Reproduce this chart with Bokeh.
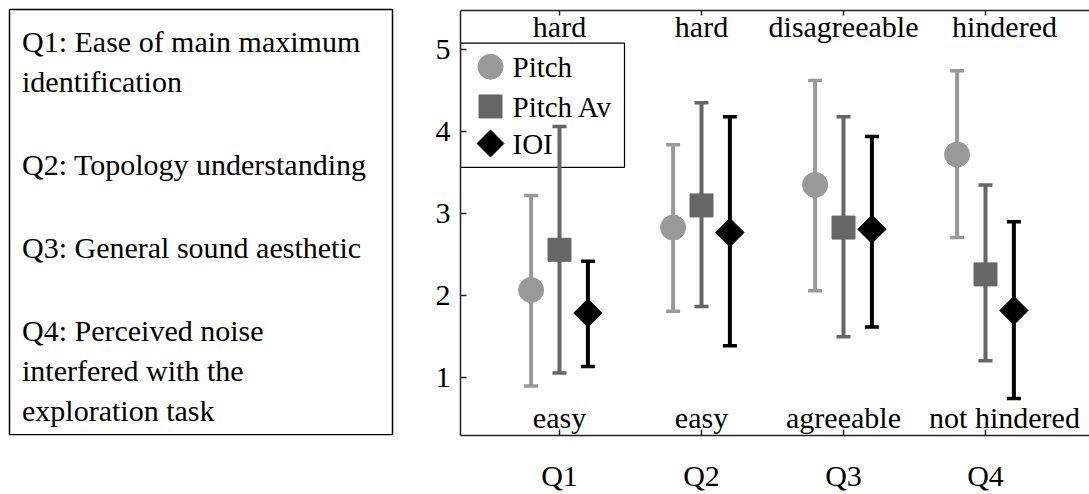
import numpy as np
from bokeh.plotting import figure
from bokeh.models import Range1d, FixedTicker, LinearAxis, Span
from bokeh.layouts import row
from bokeh.embed import file_html
from bokeh.resources import INLINE
from bokeh.core.properties import value

# ---------------- data ----------------
questions = ["Q1", "Q2", "Q3", "Q4"]
series_names = ["Pitch", "Pitch Av", "IOI"]

pitch_mean = [2.07, 2.83, 3.35, 3.72]
pitch_low = [0.90, 1.81, 2.06, 2.71]
pitch_high = [3.22, 3.84, 4.62, 4.74]

pitchav_mean = [2.56, 3.10, 2.83, 2.26]
pitchav_low = [1.06, 1.87, 1.50, 1.21]
pitchav_high = [4.06, 4.35, 4.18, 3.35]

ioi_mean = [1.79, 2.77, 2.81, 1.82]
ioi_low = [1.14, 1.39, 1.62, 0.75]
ioi_high = [2.42, 4.18, 3.94, 2.90]

top_labels = ["hard", "hard", "disagreeable", "hindered"]
bottom_labels = ["easy", "easy", "agreeable", "not hindered"]
y_ticks = [1, 2, 3, 4, 5]

descriptions = [
    ["Q1: Ease of main maximum", "identification"],
    ["Q2: Topology understanding"],
    ["Q3: General sound aesthetic"],
    ["Q4: Perceived noise", "interfered with the", "exploration task"],
]

FONT = value("Liberation Serif")
FS = "30px"
TOTAL_W, H = 1089, 494
TXT_SHIFT = 11   # empirical correction of the text-glyph baseline (px)
LABEL_XOFF = [0, 0, 0, 19]   # horizontal nudge (px) of the scale annotations per question

# frame geometry (page pixels); both figures share the same frame rows
W1 = 428
FL, FR, FT, FB = W1 + 32, TOTAL_W, 0, 438
TOP_LINE = 10

# ---------------- left description box ----------------
p1 = figure(width=W1, height=H, x_range=Range1d(0, W1), y_range=Range1d(FB, FT),
            output_backend="svg", toolbar_location=None, x_axis_type=None, y_axis_type=None,
            min_border_left=0, min_border_right=0, min_border_top=FT, min_border_bottom=H - FB)
p1.outline_line_color = None
p1.quad(left=[9], right=[392], top=[9], bottom=[437.2], fill_color=None,
        line_color="black", line_width=1.5)
lines, ys = [], []
y = 52.0
for para in descriptions:
    for i, t in enumerate(para):
        lines.append(t)
        ys.append(y - TXT_SHIFT)
        if i < len(para) - 1:
            y += 40.5
    y += 83.5
p1.text(x=[21.5] * len(lines), y=ys, text=lines, text_font=FONT, text_font_size=FS,
        text_baseline="alphabetic", text_align="left", text_color="black")

# ---------------- main chart ----------------
PX_PER_Y = 82.7
PX_PER_X = 142.0
X0 = 1 - (559 - FL) / PX_PER_X
X1 = X0 + (FR - FL) / PX_PER_X
Y0 = 1 - (FB - 380) / PX_PER_Y
Y1 = Y0 + (FB - FT) / PX_PER_Y


def dx(px):
    return X0 + (px - FL) / PX_PER_X


def dy(py):
    return Y0 + (FB - py) / PX_PER_Y


p = figure(width=TOTAL_W - W1, height=H, x_range=Range1d(X0, X1), y_range=Range1d(Y0, Y1),
           output_backend="svg", toolbar_location=None, x_axis_type=None, y_axis_type=None,
           min_border_left=FL - W1, min_border_right=0, min_border_top=FT,
           min_border_bottom=H - FB)
p.outline_line_color = None

AX = "#222222"
yax = LinearAxis(ticker=FixedTicker(ticks=y_ticks), bounds=(Y0, dy(TOP_LINE)))
yax.major_tick_in = 6
yax.major_tick_out = 0
yax.minor_tick_line_color = None
yax.major_label_standoff = 10
yax.major_label_text_font = "Liberation Serif"
yax.major_label_text_font_size = FS
yax.major_label_text_color = "black"
yax.axis_line_color = AX
yax.axis_line_width = 1.5
yax.major_tick_line_color = AX
yax.major_tick_line_width = 1.5
p.add_layout(yax, "left")

qpos = list(range(1, len(questions) + 1))
xax = LinearAxis(ticker=FixedTicker(ticks=qpos),
                 major_label_overrides={q: lab for q, lab in zip(qpos, questions)})
xax.major_tick_in = 6
xax.major_tick_out = 0
xax.minor_tick_line_color = None
xax.major_label_standoff = 23
xax.major_label_text_font = "Liberation Serif"
xax.major_label_text_font_size = FS
xax.major_label_text_color = "black"
xax.axis_line_color = AX
xax.axis_line_width = 1.5
xax.major_tick_line_color = AX
xax.major_tick_line_width = 1.5
p.add_layout(xax, "below")

# top border with inward ticks
top_val = dy(TOP_LINE)
p.add_layout(Span(location=top_val, dimension="width", line_color=AX, line_width=1.5))
p.ray(x=qpos, y=[top_val] * len(qpos), length=5, length_units="screen", angle=-np.pi / 2,
      line_color=AX, line_width=1.5)

# legend box (drawn beneath the data, as in the reference)
p.quad(left=[dx(FL)], right=[dx(624)], top=[dy(43)], bottom=[dy(168)],
       fill_color="white", line_color="black", line_width=1.2)

# scale annotations
p.text(x=qpos, y=[dy(36.7 - TXT_SHIFT)] * len(qpos), text=top_labels, x_offset=LABEL_XOFF,
       text_font=FONT, text_font_size=FS, text_align="center", text_baseline="alphabetic",
       text_color="black")
p.text(x=qpos, y=[dy(430.5 - TXT_SHIFT)] * len(qpos), text=bottom_labels, x_offset=LABEL_XOFF,
       text_font=FONT, text_font_size=FS, text_align="center", text_baseline="alphabetic",
       text_color="black")

specs = [
    ("Pitch", pitch_mean, pitch_low, pitch_high, "#999999", "circle", 25, 0.0, -0.2),
    ("Pitch Av", pitchav_mean, pitchav_low, pitchav_high, "#666666", "square", 23, 0.0, 0.0),
    ("IOI", ioi_mean, ioi_low, ioi_high, "#000000", "square", 20, np.pi / 4, 0.2),
]

for name, mean, low, high, col, mk, sz, ang, off in specs:
    xs = [q + off for q in qpos]
    p.segment(x0=xs, y0=low, x1=xs, y1=high, line_color=col, line_width=4)
    p.scatter(x=xs + xs, y=list(low) + list(high), marker="dash", size=14,
              line_color=col, line_width=3.5)

for name, mean, low, high, col, mk, sz, ang, off in specs:
    xs = [q + off for q in qpos]
    p.scatter(x=xs, y=mean, marker=mk, size=sz, angle=ang,
              fill_color=col, line_color=col, line_width=1)

# legend entries
leg_marker_py = [66.7, 106.7, 144.0]
leg_text_py = [78.3, 118.3, 155.0]
leg_sizes = [25, 23, 19]
for (name, mean, low, high, col, mk, sz, ang, off), mpy, tpy, lsz in zip(specs, leg_marker_py,
                                                                          leg_text_py, leg_sizes):
    p.scatter(x=[dx(490)], y=[dy(mpy)], marker=mk, size=lsz, angle=ang,
              fill_color=col, line_color=col, line_width=1)
    p.text(x=[dx(512)], y=[dy(tpy - TXT_SHIFT)], text=[name], text_font=FONT,
           text_font_size="29px", text_align="left", text_baseline="alphabetic",
           text_color="black")

layout = row(p1, p, spacing=0)
open("out.html", "w").write(file_html(layout, INLINE))
